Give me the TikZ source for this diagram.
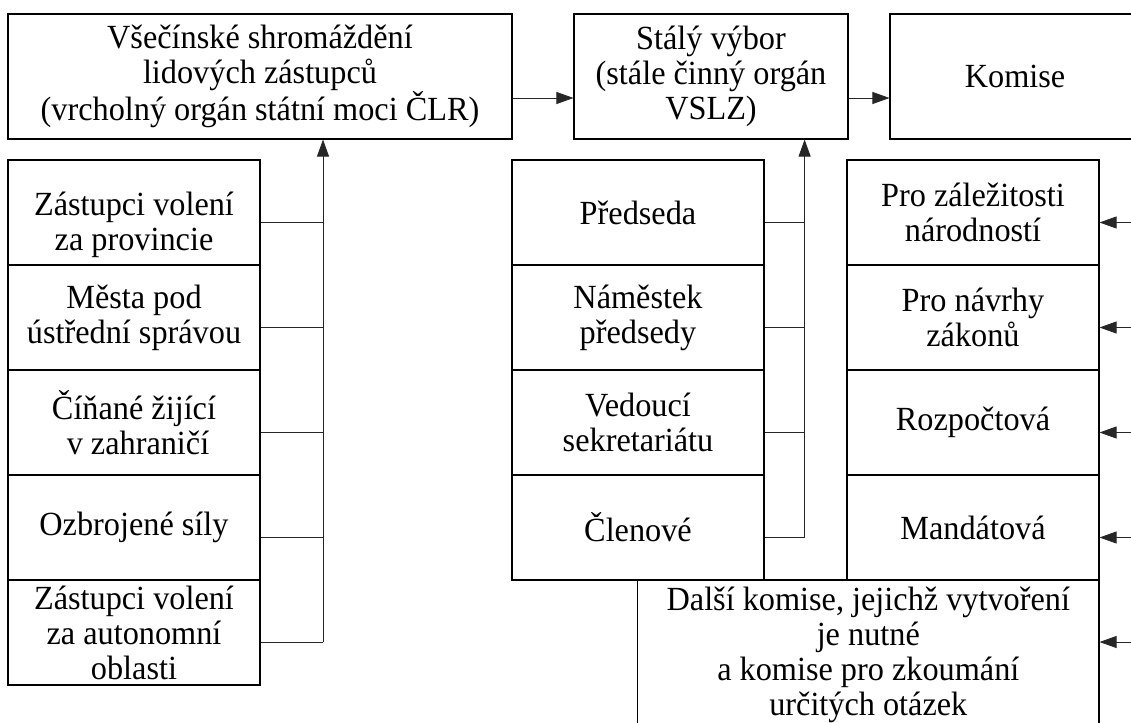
\documentclass[tikz,border=0pt]{standalone}
\usepackage{fontspec}
\setmainfont{Liberation Serif}[FakeStretch=0.955]
\usetikzlibrary{arrows.meta}
\begin{document}
\begin{tikzpicture}[x=1pt,y=-1pt,
  box/.style={draw,line width=1.1pt,inner sep=0pt,align=center,
    font=\fontsize{33.8}{35}\selectfont},
  cell/.style={box,minimum width=252pt,minimum height=105pt},
  top/.style={box,minimum height=125pt},
  plain/.style={inner sep=0pt,align=center,font=\fontsize{33.8}{35}\selectfont},
  conn/.style={line width=0.8pt,black!85},
  arr/.style={conn,-{Triangle[length=17pt,width=12pt]}}]
\clip (0,0) rectangle (1131,722);
\fill[white] (0,0) rectangle (1131,722);
% top row
\node[top,minimum width=504pt] (A) at (260,76.5) {Všečínské shromáždění\\lidových zástupců\\(vrcholný orgán státní moci ČLR)};
\node[top,minimum width=274pt] (B) at (711,76.5) {Stálý výbor\\(stále činný orgán\\VSLZ)};
\node[top,minimum width=250pt] (C) at (1015,76.5) {Komise};
% left column
\node[cell] (L1) at (134,212.5) {};
\node[plain] (L1t) at ([yshift=-12pt]L1.center) {Zástupci volení\\za provincie};
\node[cell] (L2) at (134,317.5) {Města pod\\ústřední správou};
\node[cell] (L3) at (134,422.5) {Číňané žijící\\\hspace{8pt}v zahraničí};
\node[cell] (L4) at (134,527.5) {Ozbrojené síly};
\node[cell] (L5) at (134,632.5) {Zástupci volení\\za autonomní\\oblasti};
% middle column
\node[cell] (M1) at (638,212.5) {Předseda};
\node[cell] (M2) at (638,317.5) {Náměstek\\předsedy};
\node[cell] (M3) at (638,422.5) {Vedoucí\\sekretariátu};
\node[cell] (M4) at (638,527.5) {Členové};
% right column
\node[cell] (R1) at (973,212.5) {Pro záležitosti\\národností};
\node[cell] (R2) at (973,317.5) {Pro návrhy\\zákonů};
\node[cell] (R3) at (973,422.5) {Rozpočtová};
\node[cell] (R4) at (973,527.5) {Mandátová};
\node[box,minimum width=461.4pt,minimum height=150pt] (D) at (868.3,655) {Další komise, jejichž vytvoření\\je nutné\\a komise pro zkoumání\\určitých otázek};
% top arrows
\draw[arr] ([yshift=-21.5pt]A.east) -- ([yshift=-21.5pt]B.west);
\draw[arr] ([yshift=-21.5pt]B.east) -- ([yshift=-21.5pt]C.west);
% left bus
\coordinate (lb) at (323,642);
\draw[arr] (lb) -- (lb |- A.south);
\foreach \n in {L1,L2,L3,L4,L5}
  \draw[conn] ([yshift=-10pt]\n.east) -- ([yshift=-10pt]\n.east -| lb);
% middle bus
\coordinate (mb) at (804.6,537.5);
\draw[arr] (mb) -- (mb |- B.south);
\foreach \n in {M1,M2,M3,M4}
  \draw[conn] ([yshift=-10pt]\n.east) -- ([yshift=-10pt]\n.east -| mb);
% right incoming arrows
\foreach \n in {R1,R2,R3,R4}
  \draw[arr] ([yshift=-10pt]\n.east) ++(45,0) -- ([yshift=-10pt]\n.east);
\coordinate (dr) at (1145,642);
\draw[arr] (dr) -- (dr -| D.east);
\end{tikzpicture}
\end{document}
